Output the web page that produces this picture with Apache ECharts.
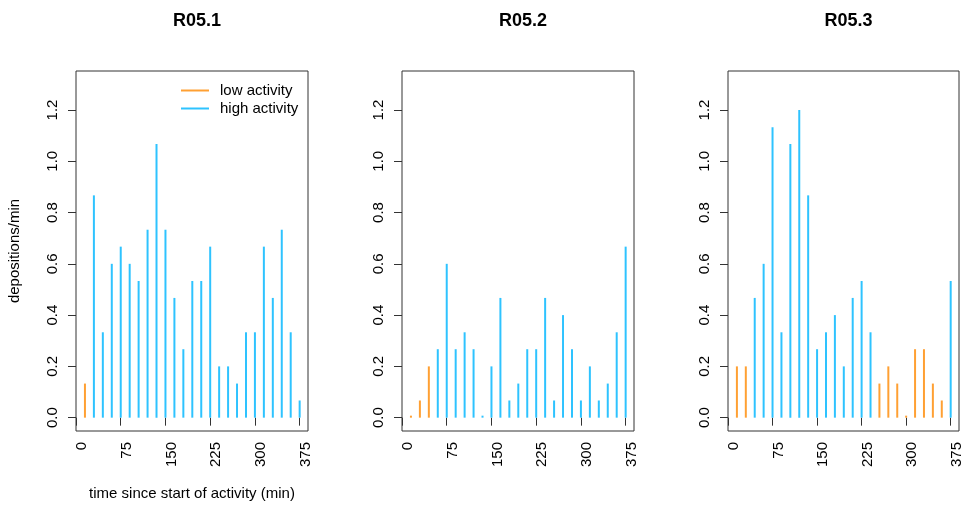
<!DOCTYPE html>
<html>
<head>
<meta charset="utf-8">
<script src="https://cdn.jsdelivr.net/npm/echarts@6/dist/echarts.min.js"></script>
<style>
  html, body { margin: 0; padding: 0; background: #fff; }
  #chart { width: 962px; height: 506px; }
</style>
</head>
<body>
<div id="chart"></div>
<script>
// ---- data ----
var panelTitles = ['R05.1', 'R05.2', 'R05.3'];
var times = [15, 30, 45, 60, 75, 90, 105, 120, 135, 150, 165, 180, 195, 210, 225, 240, 255, 270, 285, 300, 315, 330, 345, 360, 375];
var r051 = [0.133, 0.867, 0.333, 0.6, 0.667, 0.6, 0.533, 0.733, 1.067, 0.733, 0.467, 0.267, 0.533, 0.533, 0.667, 0.2, 0.2, 0.133, 0.333, 0.333, 0.667, 0.467, 0.733, 0.333, 0.067];
var r052 = [0, 0.067, 0.2, 0.267, 0.6, 0.267, 0.333, 0.267, 0, 0.2, 0.467, 0.067, 0.133, 0.267, 0.267, 0.467, 0.067, 0.4, 0.267, 0.067, 0.2, 0.067, 0.133, 0.333, 0.667];
var r053 = [0.2, 0.2, 0.467, 0.6, 1.133, 0.333, 1.067, 1.2, 0.867, 0.267, 0.333, 0.4, 0.2, 0.467, 0.533, 0.333, 0.133, 0.2, 0.133, 0, 0.267, 0.267, 0.133, 0.067, 0.533];
// activity state per interval: L = low activity, H = high activity
var r051Act = ['L','H','H','H','H','H','H','H','H','H','H','H','H','H','H','H','H','H','H','H','H','H','H','H','H'];
var r052Act = ['L','L','L','H','H','H','H','H','H','H','H','H','H','H','H','H','H','H','H','H','H','H','H','H','H'];
var r053Act = ['L','L','H','H','H','H','H','H','H','H','H','H','H','H','H','H','L','L','L','L','L','L','L','L','H'];
var xTicks = [0, 75, 150, 225, 300, 375];
var yTicks = [0, 0.2, 0.4, 0.6, 0.8, 1.0, 1.2];
var seriesNames = ['low activity', 'high activity'];

// ---- styling ----
var FONT = "'Liberation Sans', Arial, Helvetica, sans-serif";
var LOW_COLOR = '#FFA033';
var HIGH_COLOR = '#2EC3FF';
var gridLefts = [76, 402, 728];
var gridWidths = [232, 232, 231];
var panels = [
  { vals: r051, act: r051Act },
  { vals: r052, act: r052Act },
  { vals: r053, act: r053Act }
];

var option = {
  animation: false,
  backgroundColor: '#ffffff',
  textStyle: { fontFamily: FONT, color: '#000' },
  title: [],
  legend: {
    data: seriesNames,
    orient: 'vertical',
    left: 181,
    top: 83,
    padding: 0,
    itemWidth: 28,
    itemHeight: 2,
    itemGap: 3,
    icon: 'rect',
    selectedMode: false,
    textStyle: { fontFamily: FONT, fontSize: 15, color: '#000', padding: [0, 0, 0, 6] }
  },
  grid: [],
  xAxis: [],
  yAxis: [],
  series: []
};

for (var p = 0; p < 3; p++) {
  option.title.push({
    text: panelTitles[p],
    left: gridLefts[p] + gridWidths[p] / 2,
    top: 7,
    textAlign: 'center',
    textStyle: { fontFamily: FONT, fontSize: 18, fontWeight: 'bold', color: '#000' }
  });
  option.grid.push({
    left: gridLefts[p],
    width: gridWidths[p],
    top: 71,
    bottom: 75,
    show: true,
    borderColor: '#333',
    borderWidth: 1,
    containLabel: false,
    outerBoundsMode: 'none'
  });
  option.xAxis.push({
    type: 'value',
    gridIndex: p,
    min: 0,
    max: 389,
    name: p === 0 ? 'time since start of activity (min)' : '',
    nameLocation: 'middle',
    nameGap: 55,
    nameTextStyle: { fontFamily: FONT, fontSize: 15, color: '#000' },
    axisLine: { show: false },
    splitLine: { show: false },
    axisTick: { show: true, length: 8, customValues: xTicks, lineStyle: { color: '#333', width: 1 } },
    axisLabel: {
      customValues: xTicks,
      rotate: 90,
      margin: 11,
      fontFamily: FONT,
      fontSize: 15,
      lineHeight: 12,
      verticalAlign: 'top',
      color: '#000'
    }
  });
  option.yAxis.push({
    type: 'value',
    gridIndex: p,
    min: -0.052,
    max: 1.352,
    name: p === 0 ? 'depositions/min' : '',
    nameLocation: 'middle',
    nameGap: 54,
    nameTextStyle: { fontFamily: FONT, fontSize: 15, color: '#000' },
    axisLine: { show: false },
    splitLine: { show: false },
    axisTick: { show: true, length: 8, customValues: yTicks, lineStyle: { color: '#333', width: 1 } },
    axisLabel: {
      customValues: yTicks,
      rotate: 90,
      margin: 16,
      fontFamily: FONT,
      fontSize: 15,
      color: '#000',
      formatter: function (v) { return v.toFixed(1); }
    }
  });
  var lowData = [], highData = [];
  var pan = panels[p];
  for (var i = 0; i < times.length; i++) {
    if (pan.act[i] === 'L') lowData.push([times[i], pan.vals[i]]);
    else highData.push([times[i], pan.vals[i]]);
  }
  option.series.push({
    name: seriesNames[0],
    type: 'bar',
    xAxisIndex: p,
    yAxisIndex: p,
    data: lowData,
    barWidth: 2,
    barGap: '-100%',
    barMinHeight: 2,
    itemStyle: { color: LOW_COLOR },
    emphasis: { disabled: true }
  });
  option.series.push({
    name: seriesNames[1],
    type: 'bar',
    xAxisIndex: p,
    yAxisIndex: p,
    data: highData,
    barWidth: 2,
    barGap: '-100%',
    barMinHeight: 2,
    itemStyle: { color: HIGH_COLOR },
    emphasis: { disabled: true }
  });
}

var chart = echarts.init(document.getElementById('chart'), null, { renderer: 'canvas' });
chart.setOption(option);
</script>
</body>
</html>
